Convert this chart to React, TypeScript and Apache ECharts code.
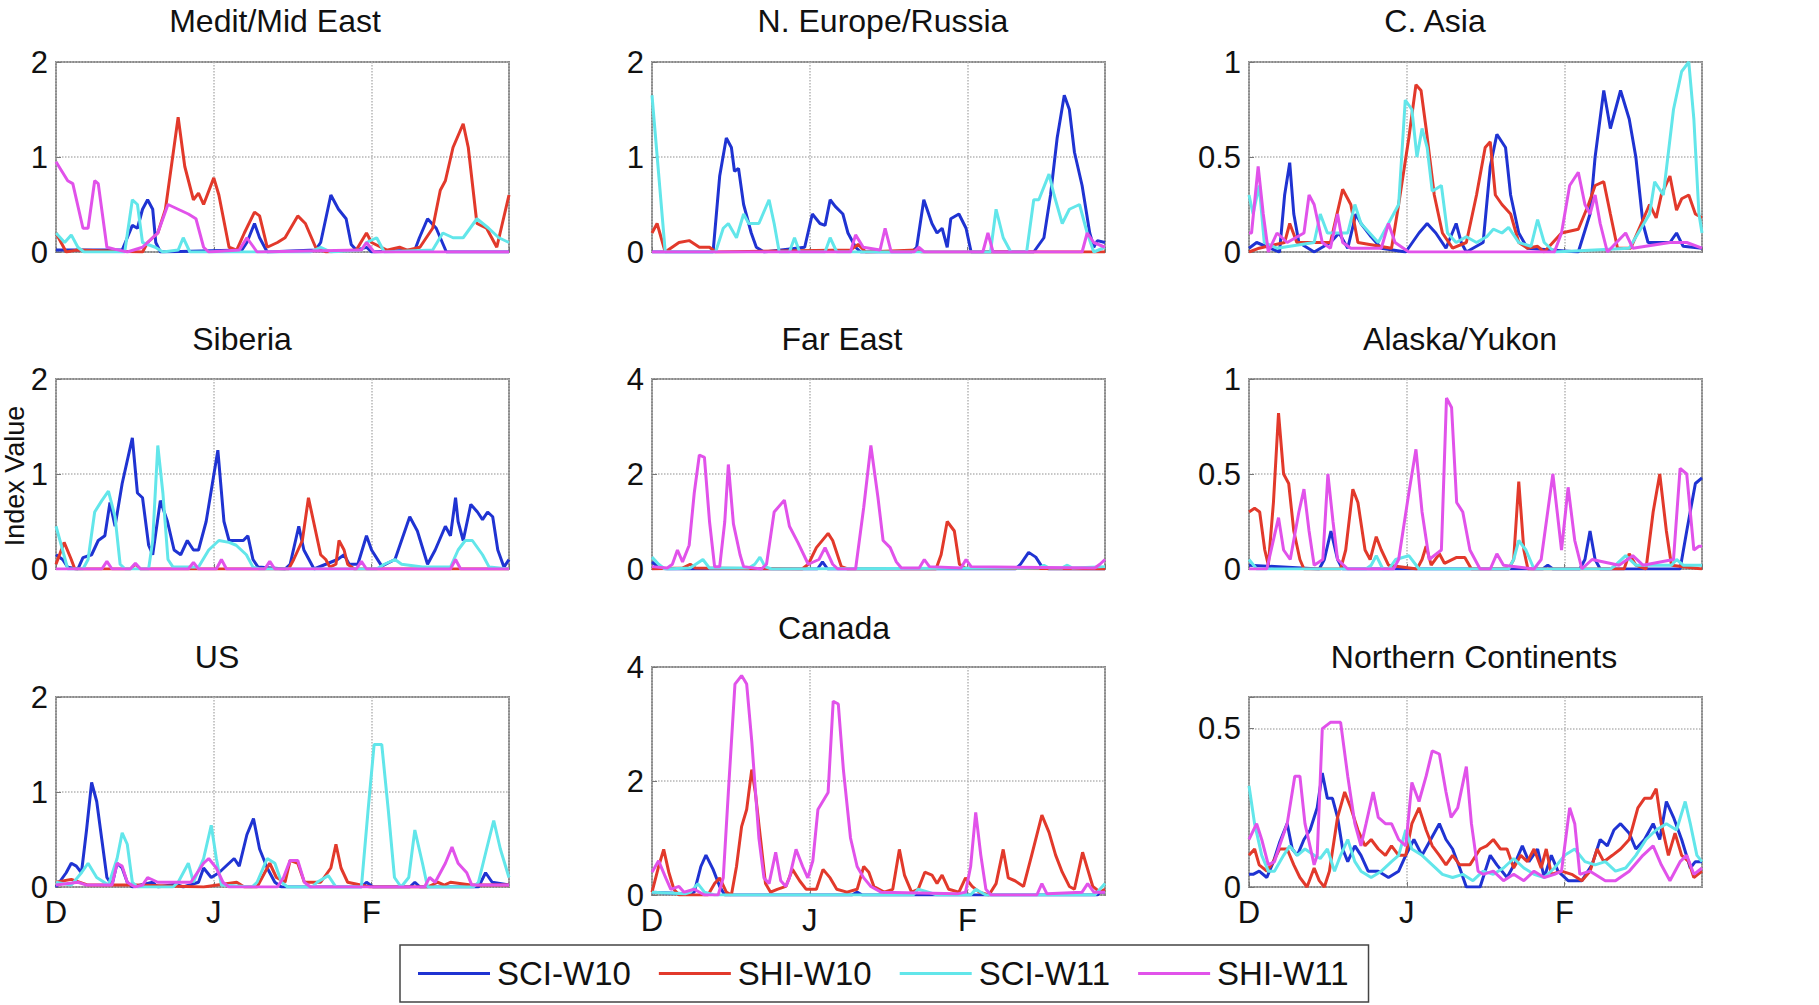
import React, { useEffect, useRef } from "react";
import * as echarts from "echarts";

// ---------- data: [day since 1 Dec, index value] ----------
const SERIES_NAMES = ["SCI-W10", "SHI-W10", "SCI-W11", "SHI-W11"];
const MONTH_TICKS: Record<number, string> = { 0: "D", 31: "J", 62: "F" };

const MED_SCI10 = [[0,0.02],[13,0.02],[14,0.15],[15,0.28],[16,0.25],[17,0.45],[18,0.55],[19,0.45],[19.6,0.1],[20.5,0],[36.5,0.02],[37.5,0.1],[39,0.3],[40,0.15],[41.5,0],[51,0.02],[52,0.1],[54,0.6],[55.5,0.45],[57,0.35],[58,0.08],[59,0.02],[61,0.05],[62,0],[70.5,0.02],[71.4,0.15],[73,0.35],[74.7,0.25],[76.7,0],[89,0]];
const MED_SHI10 = [[0,0.2],[1,0.1],[2,0],[4,0.02],[17,0],[18,0.1],[20,0.2],[21.5,0.45],[24,1.42],[25.3,0.9],[27,0.55],[28,0.62],[29,0.5],[31,0.78],[32,0.6],[34,0.05],[35.5,0.02],[37,0.2],[39,0.42],[40,0.38],[41.5,0.05],[43.5,0.1],[45,0.15],[47.5,0.38],[49,0.3],[51,0.05],[53,0],[59,0.02],[61,0.2],[62,0.1],[65,0.02],[67.5,0.05],[69,0.02],[71.5,0.05],[74,0.25],[75.5,0.65],[76.5,0.75],[78,1.1],[80,1.35],[81,1.1],[82.7,0.3],[84.6,0.25],[86.6,0.05],[89,0.6]];
const MED_SCI11 = [[0,0.2],[1.7,0.1],[3,0.18],[4.3,0.05],[5.5,0],[13.5,0],[15,0.55],[16,0.5],[17,0.1],[19.5,0.05],[21,0],[24,0.02],[25,0.15],[26.3,0],[50,0],[52,0.05],[54,0],[60,0.02],[61,0.1],[63,0.15],[64.5,0],[74,0.02],[76,0.2],[78,0.15],[80,0.15],[82.7,0.35],[85,0.25],[87,0.15],[89,0.1]];
const MED_SHI11 = [[0,0.95],[2.3,0.75],[3.3,0.72],[5.3,0.25],[6.3,0.25],[7.6,0.75],[8.3,0.72],[10,0.05],[11.5,0.03],[14,0],[17,0.05],[20,0.2],[22,0.5],[24,0.45],[26,0.4],[27.5,0.35],[29,0.05],[30,0],[36,0.02],[37.5,0.15],[39.5,0],[60,0.02],[61,0.1],[62.5,0],[89,0]];

const NEU_SCI10 = [[0,0],[12,0],[13.3,0.8],[14.6,1.2],[15.6,1.1],[16.2,0.85],[17,0.88],[18,0.5],[19.5,0.2],[20.5,0.05],[22,0],[30,0.05],[31.5,0.4],[33,0.3],[34,0.28],[35,0.55],[36,0.48],[37.5,0.4],[38.5,0.2],[40,0.05],[41,0],[51,0],[52,0.05],[53.4,0.55],[55,0.3],[56,0.2],[57,0.25],[58,0.05],[58.7,0.35],[60.3,0.4],[61.7,0.25],[62.7,0],[75,0],[77,0.15],[78.3,0.6],[79.6,1.2],[81,1.65],[82,1.5],[83,1.05],[84.5,0.7],[86,0.2],[86.8,0.05],[87.5,0.12],[89,0.1]];
const NEU_SHI10 = [[0,0.2],[1,0.3],[2.6,0],[5.3,0.1],[7.3,0.12],[9.3,0.05],[11.3,0.05],[12.5,0],[39,0.02],[40.5,0.08],[42,0],[52,0.02],[53,0],[89,0]];
const NEU_SCI11 = [[0,1.65],[2.6,0],[12.5,0],[14,0.25],[15,0.3],[16.6,0.15],[18,0.4],[19,0.3],[21,0.3],[23,0.55],[24,0.3],[25,0],[27,0],[28,0.15],[29,0],[34,0],[35,0.15],[36.3,0],[66.5,0],[67.6,0.45],[69,0.15],[70.5,0],[73.6,0],[75,0.55],[76,0.55],[78,0.82],[79,0.6],[80.6,0.3],[82,0.45],[84,0.5],[85.5,0.2],[86.8,0],[89,0.05]];
const NEU_SHI11 = [[0,0],[39,0],[40,0.18],[41.5,0.05],[44.8,0.02],[45.8,0.25],[47,0],[51.5,0],[52.4,0.05],[53.5,0],[65,0],[66,0.2],[67,0],[84.5,0],[85.5,0.2],[86.8,0.1],[89,0.05]];

const CAS_SCI10 = [[0,0.02],[1.5,0.05],[6,0],[7,0.3],[8,0.47],[8.8,0.2],[9.8,0.05],[12.8,0],[16,0.05],[17.7,0.1],[19.4,0.02],[21,0.2],[22,0.15],[24,0.08],[26,0.02],[30.8,0],[33.4,0.1],[35,0.15],[36.7,0.1],[38.7,0.02],[40.7,0.15],[41.7,0.05],[42.7,0],[46,0.05],[47.4,0.45],[48.7,0.62],[50.4,0.55],[51.4,0.3],[53,0.1],[54.7,0.02],[64.7,0],[67,0.2],[68,0.5],[69.7,0.85],[71,0.65],[73,0.85],[74.7,0.7],[76,0.5],[77.4,0.15],[78.4,0.05],[82.7,0.05],[84,0.1],[85.3,0.03],[89,0.02]];
const CAS_SHI10 = [[0,0],[2,0.02],[7,0.05],[8,0.15],[9.4,0.05],[16,0.05],[18.4,0.33],[20,0.25],[21.4,0.05],[28,0.02],[29.4,0.25],[31.4,0.6],[32.8,0.88],[33.8,0.85],[34.8,0.65],[36.4,0.3],[38,0.1],[40,0.02],[42.7,0.05],[44.7,0.3],[46.4,0.55],[47.4,0.58],[48.4,0.3],[49.7,0.25],[51.4,0.2],[53,0.05],[54.7,0.02],[56.7,0.03],[58,0],[61.4,0.1],[64.7,0.12],[66.7,0.25],[68,0.35],[69.7,0.37],[71,0.2],[72.4,0.02],[75,0.02],[78.7,0.25],[80,0.18],[81,0.3],[82.7,0.4],[84,0.22],[85,0.28],[86.4,0.3],[87.7,0.2],[89,0.18]];
const CAS_SCI11 = [[0,0.3],[0.8,0.2],[2,0.35],[3,0.05],[5.5,0.02],[12.8,0.05],[14,0.2],[15.4,0.1],[19.4,0.1],[20.8,0.25],[22,0.15],[25.4,0.05],[29.4,0.25],[30.7,0.8],[32,0.75],[33,0.5],[34,0.65],[35,0.55],[36,0.32],[37.8,0.35],[39,0.1],[40.7,0.05],[42.7,0.08],[44.7,0.05],[46.7,0.08],[48,0.12],[49.7,0.1],[51,0.13],[53,0.05],[55.4,0.03],[56.7,0.17],[58,0.05],[60,0],[74.7,0.02],[78.7,0.2],[79.7,0.37],[81.4,0.3],[83.4,0.75],[85,0.95],[86.4,1.0],[87.4,0.7],[88.4,0.2],[89,0.1]];
const CAS_SHI11 = [[0,0.1],[0.5,0.1],[1.8,0.45],[2.8,0.2],[3.8,0],[5.5,0.1],[7.5,0.05],[10.8,0.1],[11.8,0.3],[12.8,0.25],[14.4,0.05],[16,0.02],[17.4,0.2],[18.4,0.05],[20,0.02],[26,0.02],[27.4,0.15],[28.7,0.05],[31.4,0],[60,0],[61.4,0.1],[63,0.35],[64.7,0.42],[66,0.25],[67,0.2],[68,0.3],[69,0.15],[70.4,0],[74,0.1],[75.4,0.02],[82.7,0.05],[86,0.05],[89,0.02]];

const SIB_SCI10 = [[0,0.15],[1.3,0.1],[2.3,0.02],[4.3,0],[5.3,0.12],[7,0.15],[8.3,0.3],[9.6,0.35],[10.6,0.7],[11.6,0.45],[13,0.9],[15,1.38],[16,0.8],[17,0.75],[18.2,0.25],[19,0.15],[20.5,0.72],[21.9,0.5],[23.2,0.2],[24.5,0.15],[25.8,0.3],[27,0.2],[28,0.2],[29.5,0.5],[31.8,1.25],[33,0.5],[34,0.3],[35.4,0.3],[36.8,0.3],[37.7,0.35],[38.7,0.1],[39.7,0.02],[45,0],[46,0.05],[47.7,0.45],[48.7,0.2],[50.7,0],[55.3,0.1],[56.6,0.15],[57.6,0.05],[59.3,0.05],[61,0.35],[62,0.2],[64,0.03],[66.6,0.1],[69.5,0.55],[71,0.4],[73,0.05],[74.5,0.2],[76.5,0.45],[77.5,0.35],[78.5,0.75],[79,0.5],[80,0.3],[81.5,0.68],[82.8,0.6],[83.8,0.52],[84.8,0.6],[85.8,0.55],[86.8,0.2],[88,0.02],[89,0.1]];
const SIB_SHI10 = [[0,0.05],[1.6,0.28],[3,0.1],[3.7,0],[14.6,0],[15.6,0.05],[16.6,0],[45.7,0],[46.7,0.1],[48.4,0.3],[49.6,0.75],[50.6,0.5],[52,0.15],[53,0.1],[53.8,0.02],[55,0.05],[55.6,0.3],[56.6,0.2],[57.3,0.05],[58.6,0],[89,0]];
const SIB_SCI11 = [[0,0.45],[1.3,0.2],[2.3,0],[5.3,0],[6.3,0.1],[7.6,0.6],[9,0.72],[10.3,0.82],[11.6,0.55],[12.6,0.05],[13.6,0],[18.2,0],[19,0.3],[20,1.3],[21,0.8],[22,0.1],[23,0.02],[28,0.02],[30,0.2],[32,0.3],[34,0.28],[35.4,0.25],[37.4,0.15],[38.7,0.02],[40,0],[63,0],[64.5,0.05],[66.6,0.1],[67.9,0.05],[72,0.02],[77.5,0.02],[79,0.2],[80.4,0.3],[81.8,0.3],[83.8,0.15],[85.1,0.02],[89,0]];
const SIB_SHI11 = [[0,0],[9,0],[10,0.08],[11,0],[14.6,0],[15.6,0.06],[16.6,0],[26,0],[27,0.07],[28,0],[31.5,0],[32.5,0.1],[33.5,0],[41,0],[42,0.08],[43,0],[59,0],[60,0.08],[61,0],[77.5,0],[78.5,0.1],[79.5,0],[89,0]];

const FEA_SCI10 = [[0,0.15],[1.3,0.03],[3,0],[32.5,0],[33.5,0.15],[34.5,0],[71.4,0],[72.4,0.1],[74,0.35],[75.4,0.25],[76.6,0.05],[78,0],[89,0]];
const FEA_SHI10 = [[0,0],[6,0.02],[7.5,0.1],[8.5,0.02],[29.5,0],[30.7,0.1],[32.3,0.45],[34.6,0.75],[35.5,0.6],[37.2,0.05],[38.5,0],[55.8,0],[56.8,0.3],[58,1.0],[59.4,0.8],[60.4,0.1],[61.5,0.02],[89,0]];
const FEA_SCI11 = [[0,0.25],[1.3,0.1],[2.5,0],[7.5,0.02],[8.6,0.1],[10,0.2],[11.3,0.02],[19,0.02],[20.2,0.1],[21.2,0.25],[22.2,0.05],[23.5,0],[76,0.02],[77,0.08],[78,0.02],[80.5,0.02],[81.6,0.08],[82.6,0.02],[89,0.05]];
const FEA_SHI11 = [[0,0.05],[3,0.02],[4,0.1],[5,0.4],[6,0.15],[7.3,0.5],[8.3,1.6],[9.3,2.4],[10.3,2.35],[11.3,1.0],[12.3,0.05],[13.3,0.05],[14.3,1.0],[15,2.2],[16,0.95],[17.3,0.3],[18,0.05],[21.5,0],[22.5,0.1],[24,1.2],[26,1.45],[27,0.9],[28.7,0.55],[30.7,0.1],[32.8,0.2],[34,0.45],[35.5,0.1],[36.5,0],[40,0],[41.6,1.3],[43,2.6],[44.4,1.5],[45.4,0.6],[46.8,0.45],[48,0.15],[49,0.02],[52.5,0.02],[53.5,0.2],[54.5,0.05],[60.7,0.02],[61.7,0.2],[62.7,0.05],[87,0.02],[88,0.1],[89,0.2]];

const ALY_SCI10 = [[0,0.02],[13.8,0],[14.8,0.05],[16.1,0.2],[17.4,0.05],[18.4,0],[57.7,0],[58.7,0.02],[59.7,0],[65,0],[66,0.05],[67,0.2],[68,0.05],[69,0],[84.7,0],[86,0.2],[87.7,0.45],[89,0.48]];
const ALY_SHI10 = [[0,0.3],[1.1,0.32],[2.1,0.3],[3.1,0.1],[3.8,0.02],[4.8,0.35],[5.8,0.82],[6.8,0.5],[7.8,0.45],[8.8,0.2],[10,0.05],[10.8,0],[18,0],[19,0.1],[20.4,0.42],[21.4,0.35],[22.8,0.1],[23.8,0.05],[25,0.17],[26,0.1],[27.4,0.02],[33,0],[34,0.05],[34.8,0.12],[35.8,0.02],[37.4,0.08],[38.4,0.03],[40.7,0.06],[42.4,0.06],[43.7,0],[51,0],[52,0.05],[53,0.46],[54,0.1],[54.8,0],[73.7,0],[74.7,0.08],[76,0.02],[78,0],[79.4,0.3],[80.7,0.5],[82,0.2],[83,0.02],[89,0]];
const ALY_SCI11 = [[0,0.05],[1.5,0],[23,0],[24,0.02],[25,0.07],[26.3,0],[27.5,0],[28.8,0.05],[31.4,0.07],[33.4,0],[51,0],[52,0.05],[53,0.15],[54.4,0.1],[56,0],[71,0],[72,0.02],[74,0.07],[76,0.02],[83,0.02],[84,0.05],[85.3,0.02],[89,0.02]];
const ALY_SHI11 = [[0,0],[3.5,0],[5.8,0.27],[6.8,0.1],[8.1,0.05],[9.8,0.3],[10.8,0.42],[11.8,0.2],[12.8,0.02],[14.5,0.05],[15.5,0.5],[16.5,0.25],[17.4,0.05],[19.4,0],[28.4,0],[29.4,0.05],[31.4,0.4],[32.8,0.63],[34,0.3],[35.4,0.05],[37.8,0.1],[38.8,0.9],[39.8,0.85],[40.8,0.35],[42,0.3],[43.4,0.1],[45.4,0],[47.4,0],[48.7,0.08],[50,0.02],[56,0],[57.4,0.05],[59.7,0.5],[61.4,0.1],[62.7,0.43],[64,0.15],[65.4,0],[67.4,0.05],[72.7,0.02],[75.4,0.07],[77.4,0.02],[83.4,0.05],[84.7,0.53],[86,0.5],[87.4,0.1],[88.4,0.12],[89,0.12]];

const US_SCI10 = [[0,0],[2,0.15],[3,0.25],[4,0.22],[5,0.15],[6,0.6],[7,1.1],[8,0.9],[9,0.5],[10,0.1],[11,0.02],[12,0.25],[13,0.2],[14,0.05],[15,0],[19,0.05],[20,0],[23.5,0.03],[25,0],[28,0.05],[29,0.2],[30.5,0.1],[32,0.15],[33,0.2],[35,0.3],[36,0.22],[37.5,0.55],[38.8,0.72],[40,0.4],[41.5,0.2],[43,0.05],[44.3,0],[60,0],[61,0.05],[62.3,0],[69.5,0],[70.5,0.05],[71.5,0],[83,0],[84.4,0.15],[85.7,0.05],[89,0.02]];
const US_SHI10 = [[0,0.05],[3,0.08],[6.3,0.02],[15.6,0.02],[29,0],[35.5,0.05],[37,0],[39.5,0],[40.5,0.1],[42,0.25],[43.3,0.1],[45,0.05],[46,0.28],[47.5,0.25],[48.8,0.05],[52,0.05],[54,0.2],[55,0.45],[56,0.2],[57.3,0.05],[61.7,0],[73,0],[75,0.05],[76.3,0.02],[77.5,0.05],[81.5,0.02],[89,0.02]];
const US_SCI11 = [[0,0.05],[3,0.02],[5,0.15],[6.3,0.25],[8,0.1],[10.3,0.02],[12,0.3],[13,0.57],[14,0.45],[15,0.05],[16,0],[23,0],[24,0.05],[26,0.25],[27,0.05],[29,0.3],[30.5,0.65],[31.5,0.3],[32.5,0.02],[38.5,0],[39.5,0.05],[41.5,0.3],[43,0.25],[44.3,0.05],[45.5,0],[50.3,0],[51.3,0.05],[53.5,0.12],[55,0],[60,0],[61.3,0.8],[62.5,1.5],[64,1.5],[65.3,0.8],[66.5,0.1],[67.8,0],[69.3,0.1],[70.5,0.6],[72,0.25],[73,0],[82,0],[83,0.05],[84.6,0.4],[86,0.7],[87.3,0.4],[89,0.1]];
const US_SHI11 = [[0,0.02],[4.3,0.05],[6,0.02],[11,0.02],[12,0.25],[13,0.22],[14,0.05],[15.5,0],[17,0.02],[18,0.1],[20,0.05],[22.5,0.05],[26.5,0.05],[29,0.25],[30,0.3],[31.5,0.2],[32.8,0.05],[34,0],[43.5,0],[44.7,0.1],[46,0.28],[47.5,0.28],[48.8,0.05],[50,0],[72.4,0],[73.4,0.1],[74.5,0.05],[76.5,0.25],[77.8,0.42],[79,0.25],[80.7,0.15],[81.7,0.02],[89,0.02]];

const CAN_SCI10 = [[0,0.05],[7,0.02],[8.3,0.05],[9.6,0.5],[10.6,0.7],[12,0.45],[13.3,0.15],[14.3,0],[39.3,0],[40.3,0.05],[41.3,0],[87.5,0],[88,0.05],[89,0.05]];
const CAN_SHI10 = [[0,0.05],[1.3,0.5],[2.3,0.8],[3.3,0.4],[4.3,0.1],[5.3,0],[11,0],[12.3,0.2],[13.3,0.3],[14.6,0.05],[15.6,0],[16.6,0.5],[17.6,1.2],[18.6,1.5],[19.6,2.2],[20.3,1.8],[21.3,1.0],[22.3,0.2],[23.3,0.05],[24.6,0.1],[26.3,0.15],[27.6,0.45],[29,0.25],[30.3,0.1],[32.3,0.1],[33.6,0.45],[35,0.3],[36.3,0.1],[38.3,0.05],[40.3,0.1],[41.6,0.5],[42.6,0.4],[43.6,0.15],[45.6,0.05],[47.3,0.1],[48.6,0.8],[49.6,0.35],[51,0.05],[52.3,0.1],[53.6,0.4],[55,0.35],[56,0.2],[57,0.35],[58.3,0.1],[60.3,0.05],[61.6,0.3],[62.9,0.15],[64.3,0.05],[66.2,0],[67.6,0.2],[69,0.8],[70,0.3],[71.3,0.25],[73,0.15],[74.6,0.7],[76.6,1.4],[78,1.1],[79.3,0.7],[80.6,0.4],[82,0.15],[83,0.1],[84.6,0.75],[85.6,0.45],[86.6,0.15],[88,0.05],[89,0.1]];
const CAN_SCI11 = [[0,0.05],[6.5,0.02],[7.6,0.05],[9,0.2],[10.3,0.05],[12.3,0],[51.3,0],[52.3,0.1],[54.3,0.05],[56,0],[62.6,0],[63.6,0.1],[65.6,0],[87,0],[88,0.1],[89,0.2]];
const CAN_SHI11 = [[0,0.4],[1.3,0.6],[2.7,0.3],[3.7,0.1],[5.3,0.15],[6.3,0.05],[8.3,0.1],[10.3,0],[13,0],[14,0.3],[15,1.8],[16.3,3.7],[17.6,3.85],[18.6,3.7],[19.6,2.7],[21,1.0],[22,0.3],[23,0.2],[24.3,0.75],[25.3,0.25],[26.3,0.15],[27,0.3],[28.3,0.8],[29.6,0.5],[30.6,0.3],[31.6,0.6],[32.6,1.5],[33.6,1.65],[34.6,1.8],[35.6,3.4],[36.6,3.35],[37.6,2.2],[39,1.0],[40.3,0.5],[41.6,0.3],[43,0.15],[45,0.05],[60,0.02],[61.6,0.05],[62.6,0.5],[63.6,1.45],[64.6,0.7],[65.6,0.1],[66.6,0],[75.6,0],[76.6,0.2],[77.6,0.02],[84.5,0.05],[85.6,0.2],[86.8,0.05],[89,0.05]];

const NC_SCI10 = [[0,0.04],[0.8,0.04],[2,0.05],[3.5,0.03],[4.8,0.08],[6,0.14],[7.5,0.2],[8.5,0.12],[9.5,0.1],[10.8,0.15],[12,0.18],[13.4,0.25],[14.4,0.36],[15.4,0.28],[16.4,0.28],[17.4,0.22],[18.4,0.12],[19.4,0.08],[20.8,0.13],[22,0.1],[23.4,0.05],[25.4,0.05],[27.4,0.03],[29.4,0.05],[30.8,0.1],[32.4,0.15],[34,0.1],[35.7,0.15],[37.4,0.2],[38.7,0.15],[40,0.12],[41.4,0.06],[42.7,0],[45.4,0],[47.4,0.1],[48.7,0.07],[50.7,0.03],[52.4,0.08],[53.7,0.13],[55,0.08],[56.7,0.12],[58,0.03],[59.4,0.1],[60.7,0.05],[62.7,0.02],[65.4,0.02],[67.4,0.07],[69,0.15],[70.4,0.13],[71.7,0.18],[73,0.2],[74.7,0.17],[76,0.12],[77.7,0.15],[79.4,0.2],[80.7,0.15],[82,0.27],[83.4,0.22],[85,0.15],[86.7,0.06],[87.7,0.08],[89,0.08]];
const NC_SHI10 = [[0,0.1],[1.1,0.12],[2,0.07],[3.5,0.05],[4.8,0.08],[6,0.12],[7.5,0.12],[8.8,0.07],[10,0.03],[11.4,0],[12.8,0.06],[13.8,0.02],[14.8,0],[15.8,0.05],[17.4,0.22],[18.8,0.3],[20,0.25],[21.4,0.18],[22.8,0.13],[24,0.15],[25.4,0.12],[26.8,0.1],[28,0.13],[29.4,0.1],[30.8,0.1],[32,0.2],[33.4,0.25],[34.8,0.18],[36,0.13],[37.4,0.1],[38.7,0.07],[40,0.1],[41.4,0.07],[43.4,0.07],[45.4,0.12],[46.7,0.13],[48,0.15],[49.4,0.12],[50.7,0.12],[52,0.06],[53.4,0.1],[54.7,0.08],[56,0.12],[57.4,0.06],[58.4,0.12],[59.4,0.04],[61.4,0.05],[63.4,0.04],[65.4,0.02],[67,0.05],[68.4,0.12],[69.7,0.08],[71.4,0.1],[73,0.12],[74.7,0.15],[76.4,0.25],[77.7,0.28],[79,0.28],[80,0.31],[81,0.2],[82.4,0.1],[83.7,0.17],[85,0.1],[86.4,0.08],[87.4,0.03],[89,0.05]];
const NC_SCI11 = [[0,0.32],[1.1,0.2],[2.5,0.1],[3.8,0.05],[5,0.05],[6.8,0.1],[8,0.13],[9.5,0.1],[11,0.12],[12.8,0.1],[14,0.09],[15.4,0.12],[16.8,0.05],[18,0.1],[19.4,0.15],[20.8,0.08],[22,0.05],[24,0.03],[26,0.05],[28,0.08],[29.4,0.1],[30.8,0.18],[32,0.12],[34,0.1],[36,0.07],[38,0.04],[40,0.03],[42,0.04],[44,0.02],[46,0.05],[48,0.04],[50,0.06],[52,0.09],[54,0.06],[56,0.04],[58,0.03],[60,0.06],[62,0.1],[64,0.12],[66,0.08],[68,0.07],[70,0.08],[72,0.05],[74,0.06],[76,0.1],[78,0.15],[80,0.18],[82,0.2],[84,0.18],[85.7,0.27],[86.7,0.2],[88,0.1],[89,0.08]];
const NC_SHI11 = [[0,0.15],[1.5,0.2],[2.5,0.15],[3.8,0.07],[5,0.08],[6,0.13],[7.5,0.2],[9,0.35],[10,0.35],[11,0.2],[12.8,0.07],[13.4,0.1],[14.4,0.5],[16,0.52],[18,0.52],[19.4,0.35],[20.8,0.2],[22,0.13],[23,0.2],[24.4,0.3],[25.4,0.22],[26.8,0.2],[28,0.2],[29.4,0.15],[30.8,0.13],[32,0.33],[33.4,0.27],[34.8,0.35],[36,0.43],[37.4,0.42],[38.7,0.3],[39.7,0.22],[41,0.25],[42.7,0.38],[43.7,0.2],[45,0.05],[46,0.04],[48,0.05],[50,0.02],[52,0.04],[54,0.02],[56,0.05],[58,0.03],[60,0.04],[61.4,0.05],[63,0.25],[64,0.2],[65,0.04],[67,0.05],[70,0.02],[72,0.02],[74.7,0.05],[77.4,0.1],[79.4,0.13],[81,0.07],[82.7,0.02],[84.7,0.08],[86,0.1],[87.4,0.04],[89,0.06]];

const PANEL_TITLES = ["Medit/Mid East", "N. Europe/Russia", "C. Asia", "Siberia", "Far East", "Alaska/Yukon", "US", "Canada", "Northern Continents"];
const PANEL_YMAX = [2, 2, 1, 2, 4, 1, 2, 4, 0.6];
const PANEL_YSTEP = [1, 1, 0.5, 1, 2, 0.5, 1, 2, 0.5];
const PANEL_DATA = [
  [MED_SCI10, MED_SHI10, MED_SCI11, MED_SHI11],
  [NEU_SCI10, NEU_SHI10, NEU_SCI11, NEU_SHI11],
  [CAS_SCI10, CAS_SHI10, CAS_SCI11, CAS_SHI11],
  [SIB_SCI10, SIB_SHI10, SIB_SCI11, SIB_SHI11],
  [FEA_SCI10, FEA_SHI10, FEA_SCI11, FEA_SHI11],
  [ALY_SCI10, ALY_SHI10, ALY_SCI11, ALY_SHI11],
  [US_SCI10, US_SHI10, US_SCI11, US_SHI11],
  [CAN_SCI10, CAN_SHI10, CAN_SCI11, CAN_SHI11],
  [NC_SCI10, NC_SHI10, NC_SCI11, NC_SHI11],
];

// ---------- layout & style ----------
const COLORS = ["#1f33d2", "#e2392b", "#62e6ea", "#e152ea"];
const FONT = '"Liberation Sans", Arial, Helvetica, sans-serif';
const COL_X = [56, 652, 1249];
const ROW_Y = [62, 379, 697];
const PW = 453;
const PH = 190;
const TITLE_POS = [[275, 21], [883, 21], [1435, 21], [242, 339], [842, 339], [1460, 339], [217, 657], [834, 628], [1474, 657]];

function panelRect(i: number) {
  if (i === 7) return { left: COL_X[1], top: 667, width: PW, height: 228 };
  return { left: COL_X[i % 3], top: ROW_Y[Math.floor(i / 3)], width: PW, height: PH };
}

export default function App() {
  const ref = useRef<HTMLDivElement>(null);
  useEffect(() => {
    if (!ref.current) return;
    const chart = echarts.init(ref.current, undefined, { renderer: "svg" });
    const idx = PANEL_TITLES.map((_, i) => i);
    const option: any = {
      animation: false,
      backgroundColor: "#ffffff",
      textStyle: { fontFamily: FONT },
      grid: idx.map((i) => ({
        ...panelRect(i),
        show: true,
        borderColor: "#8a8a8a",
        borderWidth: 2,
        backgroundColor: "#ffffff",
        containLabel: false,
      })),
      xAxis: idx.map((i) => ({
        type: "value",
        gridIndex: i,
        min: 0,
        max: 89,
        interval: 31,
        axisLine: { show: false },
        axisTick: { show: true, inside: true, length: 5, lineStyle: { color: "#777" } },
        axisLabel: {
          show: i >= 6,
          fontSize: 31,
          color: "#111",
          margin: 10,
          fontFamily: FONT,
          showMaxLabel: false,
          formatter: (v: number) => MONTH_TICKS[Math.round(v)] ?? "",
        },
        splitLine: { show: true, lineStyle: { type: "dotted", color: "#b5b5b5", width: 1.5 } },
      })),
      yAxis: idx.map((i) => ({
        type: "value",
        gridIndex: i,
        min: 0,
        max: PANEL_YMAX[i],
        interval: PANEL_YSTEP[i],
        axisLine: { show: false },
        axisTick: { show: true, inside: true, length: 5, lineStyle: { color: "#777" } },
        axisLabel: {
          fontSize: 31,
          color: "#111",
          margin: 8,
          fontFamily: FONT,
          formatter: (v: number) => {
            const r = Math.round(v / PANEL_YSTEP[i]) * PANEL_YSTEP[i];
            if (Math.abs(r - v) > 1e-6) return "";
            return String(Math.round(v * 10) / 10);
          },
        },
        splitLine: { show: true, lineStyle: { type: "dotted", color: "#b5b5b5", width: 1.5 } },
      })),
      series: idx.flatMap((i) =>
        PANEL_DATA[i].map((d, k) => ({
          type: "line",
          name: SERIES_NAMES[k],
          xAxisIndex: i,
          yAxisIndex: i,
          data: d,
          showSymbol: false,
          symbol: "none",
          clip: true,
          color: COLORS[k],
          lineStyle: { color: COLORS[k], width: 3 },
          z: 2 + k,
        }))
      ),
      legend: {
        show: true,
        data: SERIES_NAMES,
        left: 400,
        top: 945,
        orient: "horizontal",
        icon: "rect",
        itemWidth: 72,
        itemHeight: 3,
        itemGap: 28,
        padding: [12, 20, 12, 18],
        borderColor: "#444",
        borderWidth: 1.5,
        backgroundColor: "#ffffff",
        textStyle: { fontSize: 33, color: "#111", fontFamily: FONT, padding: [0, 0, 0, 2] },
      },
      graphic: [
        ...idx.map((i) => ({
          type: "text",
          x: TITLE_POS[i][0],
          y: TITLE_POS[i][1],
          style: {
            text: PANEL_TITLES[i],
            align: "center",
            verticalAlign: "middle",
            font: `32px ${FONT}`,
            fill: "#111",
          },
        })),
        {
          type: "text",
          x: 15,
          y: 476,
          rotation: Math.PI / 2,
          style: {
            text: "Index Value",
            align: "center",
            verticalAlign: "middle",
            font: `27px ${FONT}`,
            fill: "#111",
          },
        },
      ],
    };
    chart.setOption(option);
    return () => chart.dispose();
  }, []);
  return (
    <div
      ref={ref}
      style={{ position: "fixed", left: 0, top: 0, width: 1819, height: 1005, background: "#fff" }}
    />
  );
}
